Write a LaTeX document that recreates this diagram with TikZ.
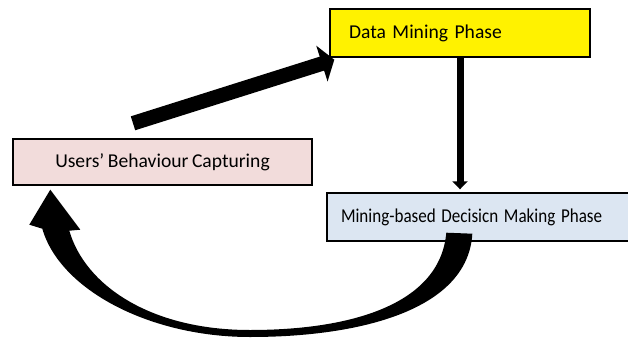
\documentclass[tikz,border=0pt]{standalone}
\usepackage{fontspec}
\setmainfont{Carlito}[WordSpace=0.8]
\usetikzlibrary{calc}
\usetikzlibrary{arrows.meta}
\definecolor{pinkfill}{HTML}{F2DCDB}
\definecolor{bluefill}{HTML}{DCE6F2}
\tikzset{phasebox/.style={draw=black, line width=1.4pt, rectangle, inner sep=0pt, font=\fontsize{19.6}{23}\selectfont}}

\begin{document}
\begin{tikzpicture}[x=1pt,y=-1pt]
\useasboundingbox (0,0) rectangle (628,337);
\node[phasebox, fill=yellow, minimum width=260pt, minimum height=48pt, text width=222pt, align=left] (data) at (460,33) {Data Mining Phase};
\node[phasebox, fill=pinkfill, minimum width=299pt, minimum height=46pt] (users) at (162.5,162) {Users’ Behaviour Capturing};
\node[phasebox, fill=bluefill, minimum width=313pt, minimum height=48pt, text width=285pt, align=left] (mining) at (483.5,217) {\scalebox{0.87}[1]{Mining-based Decisicn Making Phase}};
\coordinate (rise) at ($(users.north)+(-29.5,-15)$);
\coordinate (rise tip) at ($(data.south west)+(5,2)$);
\draw[line width=14.6pt, -{Triangle[width=37pt,length=13pt]}] (rise) -- (rise tip);
\draw[line width=7pt, -{Triangle[width=15pt,length=8pt]}] (data.south) -- ($(data.south |- mining.north)+(0,-3)$);
\coordinate (back) at ($(mining.south west)+(133,-9)$);
\coordinate (back tip) at ($(users.south west)+(38,4)$);
\fill ($(back)+(-13,0)$) .. controls (440,305) and (350,330) .. (250,330) .. controls (150,330) and (85,285) .. ($(back tip)+(19,41)$) -- ($(back tip)+(30,40)$) -- (back tip) -- ($(back tip)+(-21,35)$) -- ($(back tip)+(-8,39)$) .. controls (60,290) and (150,337) .. (250,337) .. controls (360,337) and (468,310) .. ($(back)+(13,1)$) -- cycle;
\end{tikzpicture}
\end{document}
